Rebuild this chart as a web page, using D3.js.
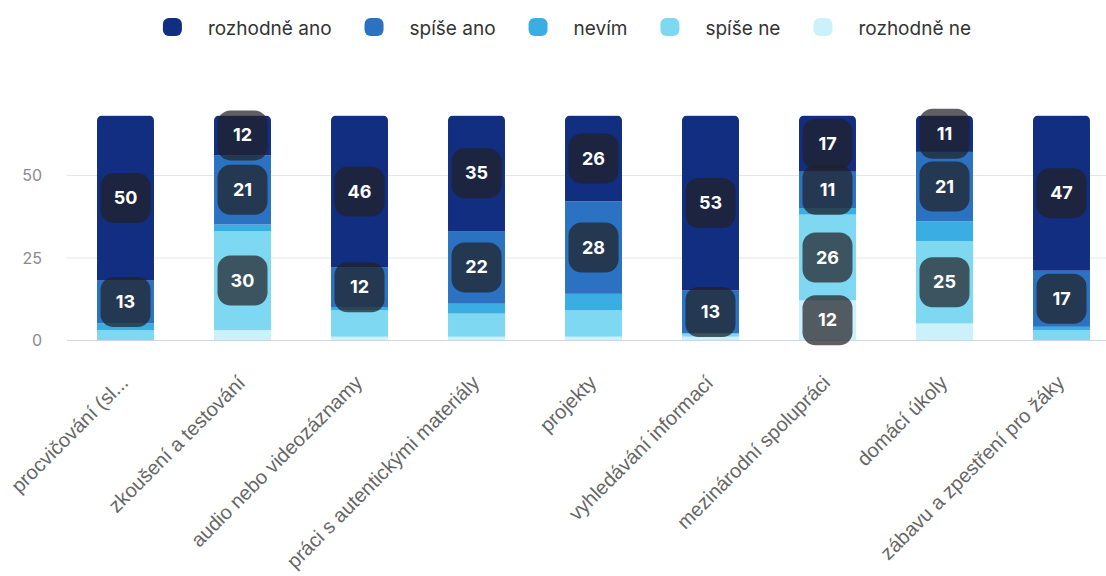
<!DOCTYPE html>
<html><head><meta charset="utf-8">
<script src="https://cdn.jsdelivr.net/npm/d3@7"></script>
<style>body{margin:0;background:#fff}svg{display:block}</style>
</head><body>
<svg id="c" width="1106" height="576"></svg>
<script>
const categories = ["procvičování (sl...","zkoušení a testování","audio nebo videozáznamy","práci s autentickými materiály","projekty","vyhledávání informací","mezinárodní spolupráci","domácí úkoly","zábavu a zpestření pro žáky"];
const seriesNames = ["rozhodně ano","spíše ano","nevím","spíše ne","rozhodně ne"];
const rozhodneAno = [50,12,46,35,26,53,17,11,47];
const spiseAno   = [13,21,12,22,28,13,11,21,17];
const nevim      = [2,2,1,3,5,0,2,6,1];
const spiseNe    = [3,30,8,7,8,1,26,25,3];
const rozhodneNe = [0,3,1,1,1,1,12,5,0];
const yTicks = [0,25,50];
const colors = ["#112e81","#2b72c3","#3aaee3","#7fd8f2","#ccf1fa"];

const seriesValues = [rozhodneAno, spiseAno, nevim, spiseNe, rozhodneNe];
const rows = categories.map((c,i)=>{const r={cat:c}; seriesNames.forEach((s,k)=>r[s]=seriesValues[k][i]); return r;});
const keysBottomUp = seriesNames.slice().reverse();
const stacked = d3.stack().keys(keysBottomUp)(rows);

const svg = d3.select("#c");
const x = d3.scaleBand().domain(categories).range([67,1120]).paddingInner(0.513).paddingOuter(0.2565);
const y = d3.scaleLinear().domain([0,75]).range([340,92.5]);

// grid
svg.append("g").selectAll("line").data(yTicks.filter(t=>t>0)).join("line")
  .attr("x1",67).attr("x2",1106).attr("y1",d=>y(d)+0.5).attr("y2",d=>y(d)+0.5)
  .attr("stroke","#e6e6e6").attr("stroke-width",1);
// y labels
svg.append("g").selectAll("text").data(yTicks).join("text")
  .attr("x",42).attr("y",d=>y(d)+6).attr("text-anchor","end")
  .attr("font-family","Inter, sans-serif").attr("font-size",16).attr("fill","#8a8a8a").text(d=>d);

// clip paths
const defs = svg.append("defs");
rows.forEach((r,i)=>{
  const total = seriesNames.reduce((a,s)=>a+r[s],0);
  defs.append("clipPath").attr("id","clip"+i).append("rect")
    .attr("x",x(r.cat)).attr("y",y(total)).attr("width",x.bandwidth())
    .attr("height",y(0)-y(total)+10).attr("rx",5);
});

const gBars = svg.append("g");
stacked.forEach(layer=>{
  const k = seriesNames.indexOf(layer.key);
  gBars.append("g").selectAll("rect").data(layer).join("rect")
    .attr("clip-path",(d,i)=>"url(#clip"+i+")")
    .attr("x",d=>x(d.data.cat)).attr("width",x.bandwidth())
    .attr("y",d=>y(d[1])).attr("height",d=>Math.max(0,y(d[0])-y(d[1])))
    .attr("fill",colors[k]);
});

// axis line
svg.append("line").attr("x1",67).attr("x2",1106).attr("y1",y(0)+0.5).attr("y2",y(0)+0.5)
  .attr("stroke","#ccd6eb").attr("stroke-width",1);

// value labels
const gLab = svg.append("g");
stacked.forEach(layer=>{
  layer.forEach(d=>{
    const v = d[1]-d[0];
    if (v < 10) return;
    const cx = x(d.data.cat)+x.bandwidth()/2;
    const cy = (y(d[0])+y(d[1]))/2;
    const g = gLab.append("g");
    g.append("rect").attr("x",cx-25).attr("y",cy-25).attr("width",50).attr("height",50).attr("rx",13)
      .attr("fill","rgb(33,33,38)").attr("fill-opacity",0.72);
    g.append("text").attr("x",cx).attr("y",cy+6).attr("text-anchor","middle")
      .attr("font-family","Inter, sans-serif").attr("font-weight",700).attr("font-size",18)
      .attr("fill","#fff").text(v);
  });
});

// x labels
svg.append("g").selectAll("text").data(categories).join("text")
  .attr("transform",d=>`translate(${x(d)+x.bandwidth()/2+4},${y(0)+44}) rotate(-45)`)
  .attr("text-anchor","end")
  .attr("font-family","'Liberation Sans', Arial, sans-serif").attr("font-size",20).attr("fill","#666").text(d=>d);

// legend
const leg = svg.append("g");
let lx = 0;
seriesNames.forEach((s,k)=>{
  const g = leg.append("g").attr("transform",`translate(${lx},0)`);
  g.append("rect").attr("x",0).attr("y",18).attr("width",19).attr("height",18).attr("rx",6).attr("fill",colors[k]);
  const t = g.append("text").attr("x",45).attr("y",35).attr("font-family","Inter, sans-serif")
    .attr("font-size",19).attr("fill","#333").text(s);
  const w = t.node().getComputedTextLength();
  lx += 45 + w + 33;
});
const totalW = lx - 33;
leg.attr("transform",`translate(${567-totalW/2},0)`);
</script>
</body></html>
